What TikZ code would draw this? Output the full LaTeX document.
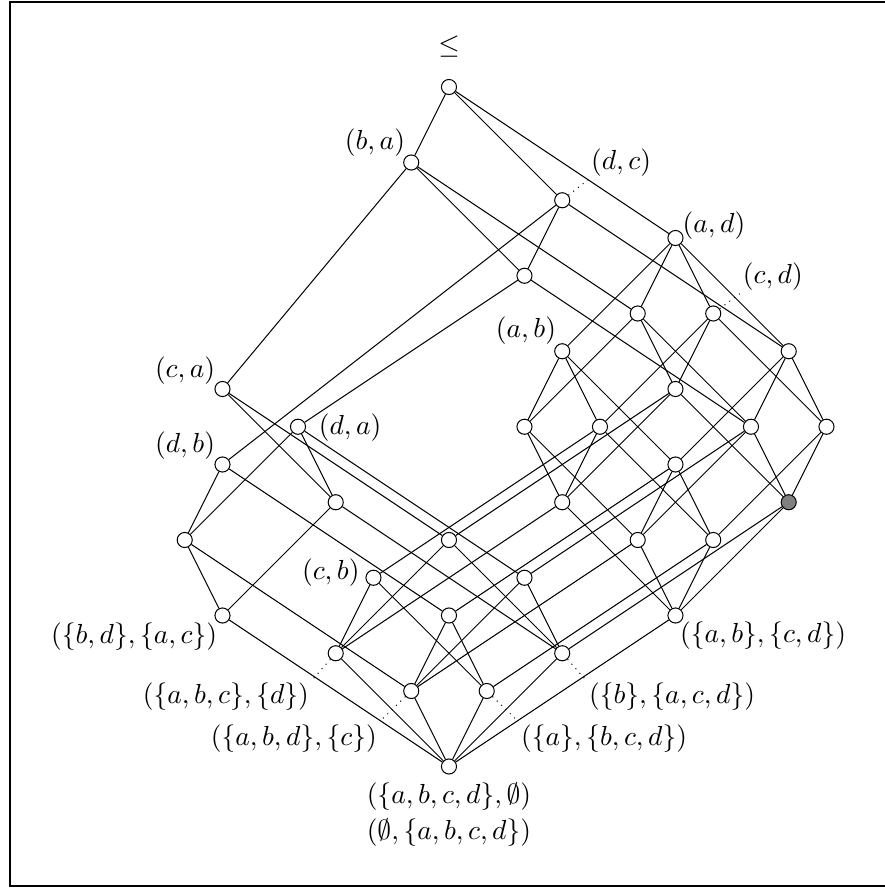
\documentclass[tikz,border=0pt]{standalone}
\usepackage{tikz}

\begin{document}
\begin{tikzpicture}[
    x=15pt, y=-15pt,
    elem/.style={circle, draw, fill=white, minimum size=6pt, inner sep=0pt},
    markelem/.style={elem, fill=gray},
    lbl/.style={inner sep=1pt, font=\fontsize{10.95}{13.6}\selectfont},
    leader/.style={dotted}
  ]
  \useasboundingbox (-11.894,-2.305) rectangle (11.550,21.219);
  % frame
  \draw[line width=0.8pt] (11.55,-2.25) -- (-11.63,-2.25) -- (-11.63,21.17) -- (11.55,21.17);

  % top and its covers
  \node[elem] (t) at (0,0) {};
  \node[elem] (n8) at (-1,2) {};
  \node[elem] (n4) at (3,3) {};
  \node[elem] (n3) at (6,4) {};

  % upper part, right wing
  \node[elem] (n48) at (2,5) {};
  \node[elem] (n38) at (5,6) {};
  \node[elem] (n35) at (7,6) {};
  \node[elem] (n37) at (3,7) {};
  \node[elem] (n34) at (9,7) {};
  \node[elem] (n358) at (6,8) {};
  \node[elem] (n378) at (2,9) {};
  \node[elem] (n357) at (4,9) {};
  \node[elem] (n348) at (8,9) {};
  \node[elem] (n345) at (10,9) {};
  \node[elem] (n347) at (6,10) {};
  \node[elem] (n3578) at (3,11) {};
  \node[markelem] (n3458) at (9,11) {};
  \node[elem] (n3478) at (5,12) {};
  \node[elem] (n3457) at (7,12) {};
  \node[elem] (n34578) at (6,14) {};

  % left wing
  \node[elem] (n568) at (-6,8) {};
  \node[elem] (n468) at (-4,9) {};
  \node[elem] (n467) at (-6,10) {};
  \node[elem] (n4568) at (-3,11) {};
  \node[elem] (n4678) at (-7,12) {};
  \node[elem] (n3568) at (0,12) {};
  \node[elem] (n3567) at (-2,13) {};
  \node[elem] (n3468) at (2,13) {};
  \node[elem] (n45678) at (-6,14) {};
  \node[elem] (n3467) at (0,14) {};
  \node[elem] (n35678) at (-3,15) {};
  \node[elem] (n34568) at (3,15) {};
  \node[elem] (n34678) at (-1,16) {};
  \node[elem] (n34567) at (1,16) {};

  % bottom
  \node[elem] (b) at (0,18) {};

  % covering edges
  \draw (t) -- (n8) (t) -- (n4) (t) -- (n3);
  \draw (n4) -- (n48) (n4) -- (n34) (n4) -- (n467);
  \draw (n8) -- (n48) (n8) -- (n38) (n8) -- (n568);
  \draw (n48) -- (n348) (n48) -- (n468);
  \draw (n3) -- (n38) (n3) -- (n34) (n3) -- (n35) (n3) -- (n37);
  \draw (n34) -- (n348) (n34) -- (n345) (n34) -- (n347);
  \draw (n35) -- (n358) (n35) -- (n345) (n35) -- (n357);
  \draw (n37) -- (n378) (n37) -- (n347) (n37) -- (n357);
  \draw (n38) -- (n348) (n38) -- (n358) (n38) -- (n378);
  \draw (n345) -- (n3458) (n345) -- (n3457);
  \draw (n347) -- (n3478) (n347) -- (n3457) (n347) -- (n3467);
  \draw (n348) -- (n3458) (n348) -- (n3478) (n348) -- (n3468);
  \draw (n357) -- (n3578) (n357) -- (n3457) (n357) -- (n3567);
  \draw (n358) -- (n3458) (n358) -- (n3578) (n358) -- (n3568);
  \draw (n378) -- (n3478) (n378) -- (n3578);
  \draw (n3457) -- (n34578) (n3457) -- (n34567);
  \draw (n3458) -- (n34578) (n3458) -- (n34568);
  \draw (n3478) -- (n34578) (n3478) -- (n34678);
  \draw (n3578) -- (n34578) (n3578) -- (n35678);
  \draw (n568) -- (n4568) (n568) -- (n3568);
  \draw (n3568) -- (n34568) (n3568) -- (n35678);
  \draw (n4568) -- (n34568) (n4568) -- (n45678);
  \draw (n468) -- (n3468) (n468) -- (n4568) (n468) -- (n4678);
  \draw (n3468) -- (n34568) (n3468) -- (n34678);
  \draw (n4678) -- (n34678) (n4678) -- (n45678);
  \draw (n467) -- (n4678) (n467) -- (n3467);
  \draw (n3467) -- (n34678) (n3467) -- (n34567);
  \draw (n3567) -- (n35678) (n3567) -- (n34567);
  \draw (n34578) -- (b) (n34568) -- (b) (n35678) -- (b)
        (n45678) -- (b) (n34678) -- (b) (n34567) -- (b);

  % attribute labels
  \node[lbl] (lle) at (0,-1.06) {$\leq$};
  \node[lbl] (lba) at (-1.96,1.48) {$(b,a)$};
  \node[lbl] (ldc) at (4.56,2.01) {$(d,c)$};
  \node[lbl] (lad) at (7.02,3.66) {$(a,d)$};
  \node[lbl] (lcd) at (8.58,5.03) {$(c,d)$};
  \node[lbl] (lab) at (2.04,6.44) {$(a,b)$};
  \node[lbl] (lca) at (-6.99,7.50) {$(c,a)$};
  \node[lbl] (lda) at (-2.62,9.03) {$(d,a)$};
  \node[lbl] (ldb) at (-6.99,9.51) {$(d,b)$};
  \node[lbl] (lcb) at (-3.13,12.87) {$(c,b)$};
  \draw[leader] (n4) -- (ldc.south west);
  \draw[leader] (n35) -- (lcd.south west);

  % object labels
  \node[lbl] (lbdac) at (-8.34,14.57) {$(\{b,d\},\{a,c\})$};
  \node[lbl] (labcd) at (8.32,14.52) {$(\{a,b\},\{c,d\})$};
  \node[lbl] (labc) at (-5.91,16.16) {$(\{a,b,c\},\{d\})$};
  \node[lbl] (lbacd) at (5.91,16.16) {$(\{b\},\{a,c,d\})$};
  \node[lbl] (labd) at (-4.11,17.25) {$(\{a,b,d\},\{c\})$};
  \node[lbl] (labcdr) at (4.11,17.25) {$(\{a\},\{b,c,d\})$};
  \node[lbl] (lfull) at (0,18.81) {$(\{a,b,c,d\},\emptyset)$};
  \node[lbl] (lempty) at (0,19.76) {$(\emptyset,\{a,b,c,d\})$};
  \draw[leader] (n35678) -- (labc.north east);
  \draw[leader] (n34678) -- (labd.north east);
  \draw[leader] (n34568) -- (lbacd.north west);
  \draw[leader] (n34567) -- (labcdr.north west);
\end{tikzpicture}
\end{document}
